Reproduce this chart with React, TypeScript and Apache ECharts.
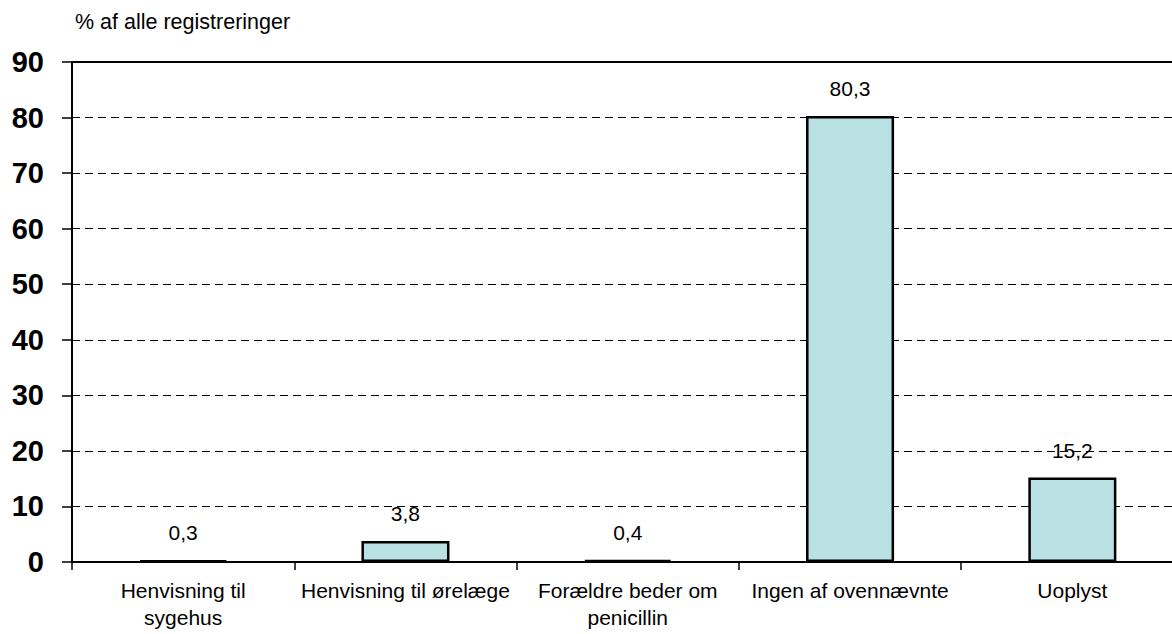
import React, { useEffect, useRef } from "react";
import * as echarts from "echarts";

const categories = [
  "Henvisning til\nsygehus",
  "Henvisning til ørelæge",
  "Forældre beder om\npenicillin",
  "Ingen af ovennævnte",
  "Uoplyst",
];
const values = [0.3, 3.8, 0.4, 80.3, 15.2];
const yTicks = { min: 0, max: 90, interval: 10 };
const yTitle = "% af alle registreringer";

const FONT = "'Liberation Sans', Arial, sans-serif";

export default function App() {
  const ref = useRef<HTMLDivElement>(null);
  useEffect(() => {
    if (!ref.current) return;
    const chart = echarts.init(ref.current, undefined, { renderer: "svg" });
    chart.setOption({
      animation: false,
      backgroundColor: "#ffffff",
      textStyle: { fontFamily: FONT },
      graphic: [
        {
          type: "text",
          left: 75,
          top: 11,
          style: { text: yTitle, fontSize: 21.5, fontFamily: FONT, fill: "#000" },
        },
      ],
      grid: { left: 72, top: 62, bottom: 72, right: 0.5, containLabel: false },
      xAxis: {
        type: "category",
        data: categories,
        axisLine: { lineStyle: { color: "#000", width: 2 } },
        axisTick: { show: true, length: 8, lineStyle: { color: "#000", width: 1.5 } },
        axisLabel: {
          interval: 0,
          color: "#000",
          fontSize: 21,
          lineHeight: 27,
          margin: 15,
          fontFamily: FONT,
        },
      },
      yAxis: {
        type: "value",
        min: yTicks.min,
        max: yTicks.max,
        interval: yTicks.interval,
        axisLine: { show: true, lineStyle: { color: "#000", width: 2 } },
        axisTick: { show: true, length: 10, lineStyle: { color: "#000", width: 1.5 } },
        axisLabel: {
          color: "#000",
          fontSize: 29,
          fontWeight: "bold",
          margin: 28,
          fontFamily: FONT,
        },
        splitLine: {
          show: true,
          lineStyle: { color: "#000", width: 1, type: [8, 5] },
        },
      },
      series: [
        {
          type: "bar",
          data: values,
          barWidth: "39.6%",
          itemStyle: { color: "#b9e1e3", borderColor: "#000", borderWidth: 2.5 },
          label: {
            show: true,
            position: "top",
            distance: 17,
            color: "#000",
            fontSize: 21,
            fontFamily: FONT,
            formatter: (p: any) => String(p.value).replace(".", ","),
          },
          markLine: {
            silent: true,
            symbol: "none",
            label: { show: false },
            lineStyle: { color: "#000", width: 2, type: "solid" },
            data: [{ yAxis: 90 }],
          },
        },
      ],
    });
    return () => chart.dispose();
  }, []);
  return (
    <div
      style={{
        position: "absolute",
        left: 0,
        top: 0,
        width: 1172,
        height: 634,
        overflow: "hidden",
        background: "#fff",
      }}
    >
      <div ref={ref} style={{ width: 1184, height: 634 }} />
    </div>
  );
}
